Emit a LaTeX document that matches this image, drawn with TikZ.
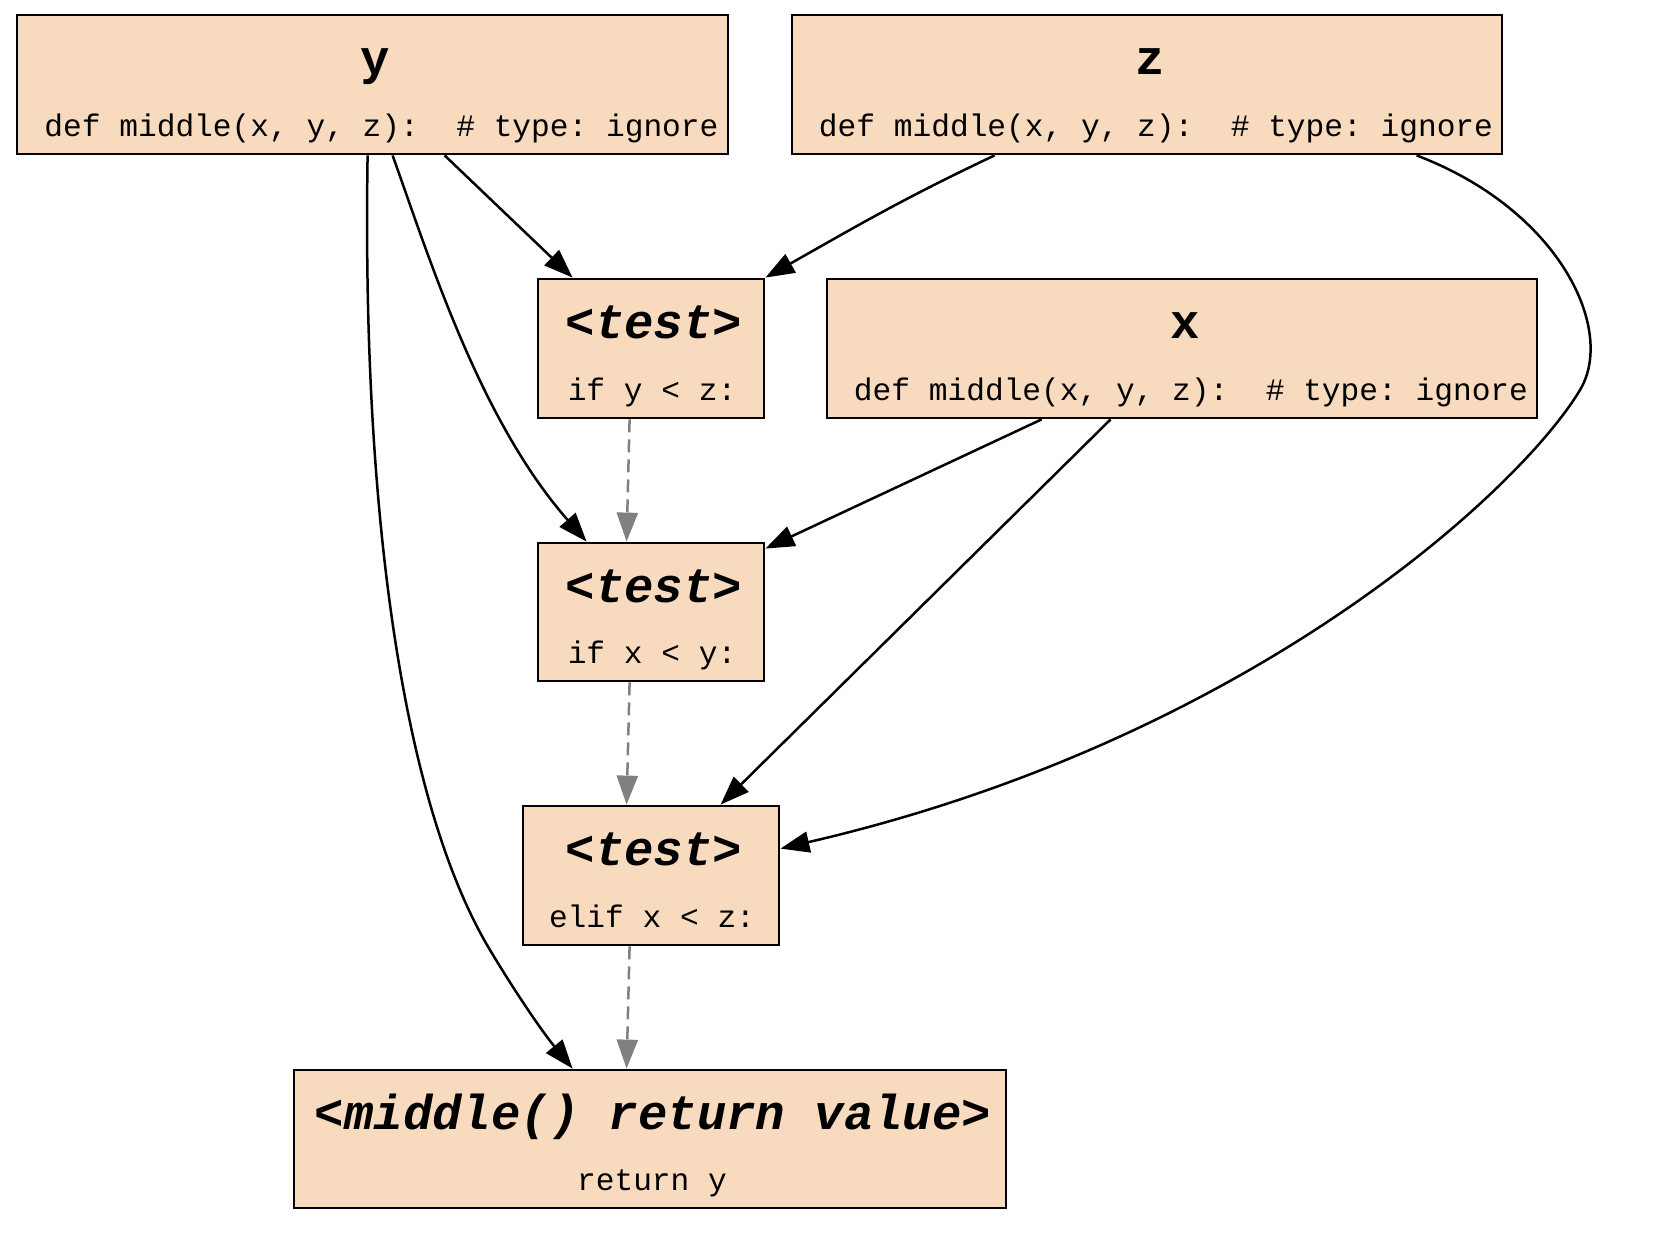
\documentclass[tikz,border=0pt]{standalone}
\usepackage{fontspec}
\setmonofont{Liberation Mono}
\usetikzlibrary{arrows.meta,calc,fit}
\definecolor{peach}{HTML}{F8DBBE}
\newcommand\gbox[9]{%
  \node[box,fit={(#2,#3)(#4,#5)}] (#1) {};
  \node[#6] at ($(#1.north)+(3,61)$) {#7};
  \node[code] at ($(#1.south)+(#9,-19)$) {#8};
}
\begin{document}
\begin{tikzpicture}[x=0.5pt,y=-0.5pt,
  box/.style={draw=black,line width=1.4pt,fill=peach,inner sep=0pt,rectangle},
  ttl/.style={font=\fontsize{24.5}{28}\selectfont\ttfamily\bfseries,anchor=base,inner sep=0pt},
  ttli/.style={font=\fontsize{24.5}{28}\selectfont\ttfamily\bfseries\itshape,anchor=base,inner sep=0pt},
  code/.style={font=\fontsize{15.6}{18}\selectfont\ttfamily,anchor=base,inner sep=0pt},
  edge/.style={line width=1.25pt,-{Triangle[length=14.5pt,width=10.5pt]}},
  cflow/.style={edge,draw=gray,dash pattern=on 6.5pt off 3.5pt}
]
\useasboundingbox (0,0) rectangle (1666,1242);
\gbox{y}{17}{15}{728}{154}{ttl}{y}{def middle(x, y, z):\ \ \# type: ignore}{9}
\gbox{z}{792}{15}{1502}{154}{ttl}{z}{def middle(x, y, z):\ \ \# type: ignore}{9}
\gbox{test1}{538}{279}{764}{418}{ttli}{<test>}{if y < z:}{1}
\gbox{x}{827}{279}{1537}{418}{ttl}{x}{def middle(x, y, z):\ \ \# type: ignore}{9}
\gbox{test2}{538}{543}{764}{681}{ttli}{<test>}{if x < y:}{1}
\gbox{test3}{523}{806}{779}{945}{ttli}{<test>}{elif x < z:}{1}
\gbox{ret}{294}{1070}{1006}{1208}{ttli}{<middle() return value>}{return y}{2}

% data edges
\draw[edge] ($(y.south west)+(429,0)$) -- ($(test1.north west)+(36,0)$);
\draw[edge] ($(y.south west)+(377,0)$) .. controls (430,260) and (480,420) .. ($(test2.north west)+(50,0)$);
\draw[edge] ($(y.south west)+(352,0)$) .. controls (362,500) and (400,800) .. (490,950) .. controls (520,1000) and (545,1035) .. ($(ret.north west)+(280,0)$);
\draw[edge] ($(z.south west)+(204,0)$) .. controls (900,200) and (850,230) .. (test1.north east);
\draw[edge] ($(z.south west)+(626,0)$) .. controls (1560,210) and (1616,330) .. (1580,390) .. controls (1520,490) and (1250,740) .. ($(test3.north east)+(0,44)$);
\draw[edge] ($(x.south west)+(216,0)$) -- ($(test2.north east)+(0,7)$);
\draw[edge] ($(x.south west)+(285,0)$) -- ($(test3.north west)+(199,0)$);

% control flow
\draw[cflow] ($(test1.south west)+(93,0)$) -- ($(test2.north west)+(90,0)$);
\draw[cflow] ($(test2.south west)+(93,0)$) -- ($(test3.north west)+(105,0)$);
\draw[cflow] ($(test3.south west)+(108,0)$) -- ($(ret.north west)+(334,0)$);
\end{tikzpicture}
\end{document}
